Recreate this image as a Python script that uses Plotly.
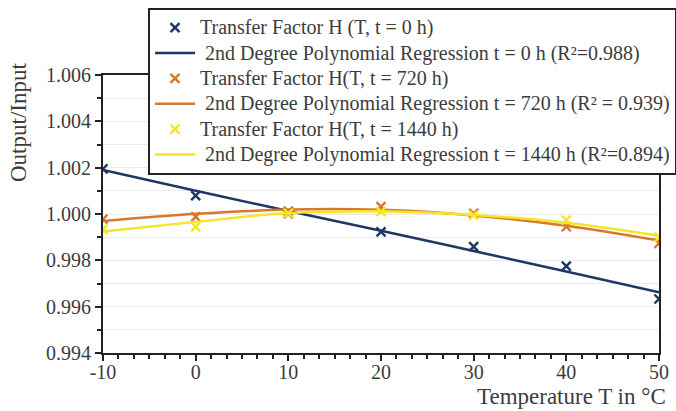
import plotly.graph_objects as go

T = [-10, 0, 10, 20, 30, 40, 50]

H_0h = [1.00195, 1.00079, 1.00002, 0.99923, 0.99859, 0.99775, 0.99633]
fit_0h = [1.00190, 1.00100, 1.00013, 0.99928, 0.99840, 0.99752, 0.99662]

H_720h = [0.99978, 0.99988, 1.00012, 1.00032, 1.00003, 0.99945, 0.99873]
fit_720h = [0.99970, 1.00001, 1.00019, 1.00018, 0.99994, 0.99949, 0.99885]

H_1440h = [0.99934, 0.99945, 1.00003, 1.00010, 0.99995, 0.99974, 0.99899]
fit_1440h = [0.99924, 0.99966, 1.00004, 1.00012, 0.99996, 0.99962, 0.99906]

names = [
    "Transfer Factor H (T, t = 0 h)",
    " 2nd Degree Polynomial Regression t = 0 h (R²=0.988)",
    "Transfer Factor H(T, t = 720 h)",
    " 2nd Degree Polynomial Regression t = 720 h (R² = 0.939)",
    "Transfer Factor H(T, t = 1440 h)",
    " 2nd Degree Polynomial Regression t = 1440 h (R²=0.894)",
]

y_ticks = [0.994, 0.996, 0.998, 1.000, 1.002, 1.004, 1.006]
x_ticks = [-10, 0, 10, 20, 30, 40, 50]

BLUE = "#1e3763"
ORANGE = "#d9782c"
YELLOW = "#f4e526"
FONT = "Liberation Serif"
TXT = "#3c3c3c"

fig = go.Figure()
series = [(H_0h, fit_0h, BLUE), (H_720h, fit_720h, ORANGE), (H_1440h, fit_1440h, YELLOW)]
for i, (pts, fit, col) in enumerate(series):
    fig.add_trace(go.Scatter(
        x=T, y=pts, mode="markers",
        name='<span style="font-size:20px">' + names[2 * i] + "</span>",
        marker=dict(symbol="x-thin", size=9, color=col, line=dict(color=col, width=2.4)),
    ))
    fig.add_trace(go.Scatter(
        x=T, y=fit, mode="lines",
        name='<span style="font-size:20px">' + names[2 * i + 1] + "</span>",
        line=dict(color=col, width=2.5, shape="spline", smoothing=1.0),
    ))

fig.update_layout(
    width=676, height=411,
    margin=dict(l=103, r=17, t=75, b=58, autoexpand=False),
    paper_bgcolor="white", plot_bgcolor="white",
    font=dict(family=FONT, size=20, color=TXT),
    showlegend=True,
    legend=dict(
        x=(148 - 103) / 556, xanchor="left",
        y=(353 - 8) / 278, yanchor="top",
        bgcolor="white", bordercolor="#222222", borderwidth=2,
        font=dict(family=FONT, size=17.2, color=TXT),
        itemwidth=40, tracegroupgap=0,
    ),
    xaxis=dict(
        range=[-10, 50], tickvals=x_ticks, ticktext=[str(v) for v in x_ticks],
        showgrid=False, zeroline=False,
        showline=True, linecolor="#222222", linewidth=2, mirror=True,
        ticks="outside", ticklen=6, tickwidth=2, tickcolor="#222222",
        minor=dict(dtick=10 / 6, tick0=-10, ticks="outside", ticklen=4, tickwidth=1.5,
                   tickcolor="#222222", showgrid=False),
        tickfont=dict(family=FONT, size=20, color=TXT),
        ticklabelstandoff=-6,
    ),
    yaxis=dict(
        range=[0.994, 1.006], tickvals=y_ticks, ticktext=[f"{v:.3f}" for v in y_ticks],
        showgrid=True, gridcolor="#ebebeb", gridwidth=1, zeroline=False,
        showline=True, linecolor="#222222", linewidth=2, mirror=True,
        ticks="outside", ticklen=6, tickwidth=2, tickcolor="#222222",
        minor=dict(dtick=0.001, tick0=0.994, ticks="outside", ticklen=4, tickwidth=1.5,
                   tickcolor="#222222", showgrid=True, gridcolor="#ebebeb", gridwidth=1),
        tickfont=dict(family=FONT, size=20, color=TXT),
    ),
    annotations=[
        dict(text="Output/Input", xref="paper", yref="paper",
             x=(18 - 103) / 556, y=(353 - 123) / 278, xanchor="center", yanchor="middle",
             textangle=-90, showarrow=False, font=dict(family=FONT, size=23, color=TXT)),
        dict(text="Temperature T in °C", xref="paper", yref="paper",
             x=(668 - 103) / 556, y=(353 - 396) / 278, xanchor="right", yanchor="middle",
             showarrow=False, font=dict(family=FONT, size=23, color=TXT)),
    ],
)

fig.write_html("out.html", config={"displayModeBar": False},
               post_script="document.body.style.margin='0';")
